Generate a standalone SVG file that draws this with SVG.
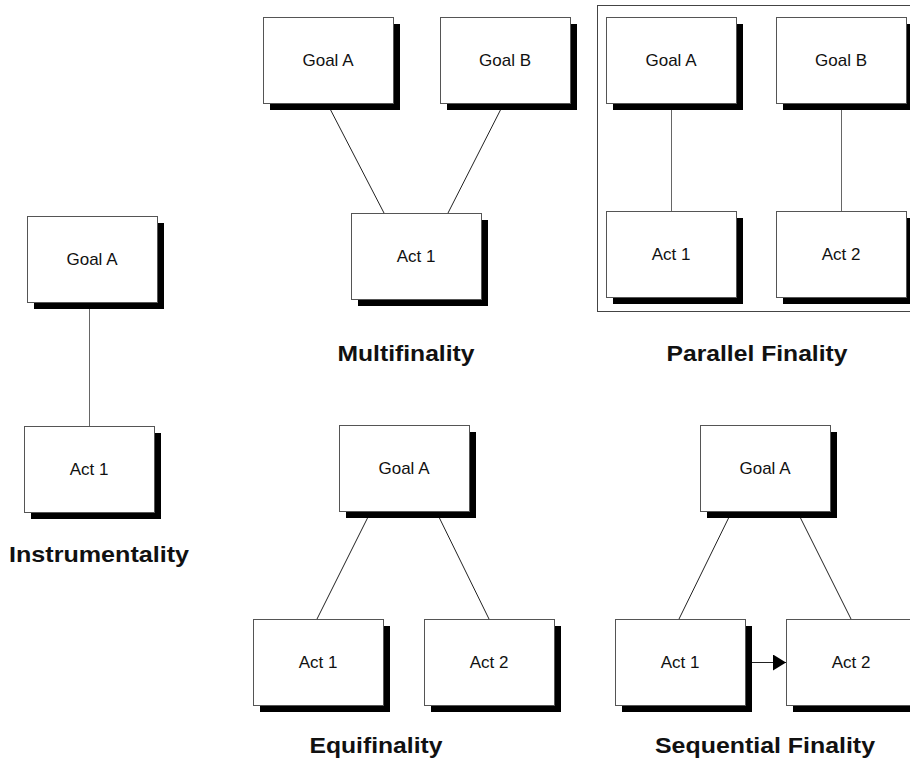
<svg xmlns="http://www.w3.org/2000/svg" width="910" height="764" viewBox="0 0 910 764">
  <style>
    .shadow { fill: #000; }
    .box { fill: #fff; stroke: #555; stroke-width: 1; }
    .label { font-family: "Liberation Sans", Arial, sans-serif; font-size: 17px; fill: #111; text-anchor: middle; }
    .title { font-family: "Liberation Sans", Arial, sans-serif; font-size: 22px; font-weight: bold; fill: #111; text-anchor: middle; }
    .link { stroke: #222; stroke-width: 1; fill: none; }
    .vlink { stroke: #666; stroke-width: 1; fill: none; }
    .frame { fill: none; stroke: #444; stroke-width: 1; }
  </style>
  <defs>
    <marker id="arrow" viewBox="0 0 13 16" refX="13" refY="8" markerWidth="13" markerHeight="16" markerUnits="userSpaceOnUse" orient="auto">
      <path d="M0,0 L13,8 L0,16 Z" fill="#000"/>
    </marker>
    <!-- node shape: black drop shadow behind a white framed box, 130x86 -->
    <g id="node">
      <rect class="shadow" x="7" y="7" width="130" height="86"/>
      <rect class="box" x="0.5" y="0.5" width="130" height="86"/>
    </g>
  </defs>
  <rect width="910" height="764" fill="#fff"/>

  <!-- frame around the parallel finality group -->
  <rect class="frame" x="597.5" y="5.5" width="330" height="306"/>

  <g id="connectors">
    <!-- instrumentality -->
    <line class="vlink" x1="89.5" y1="302" x2="89.5" y2="426"/>
    <!-- multifinality -->
    <line class="link" x1="327" y1="103" x2="384" y2="213"/>
    <line class="link" x1="504" y1="103" x2="448" y2="213"/>
    <!-- parallel finality -->
    <line class="vlink" x1="671.5" y1="103" x2="671.5" y2="211"/>
    <line class="vlink" x1="841.5" y1="103" x2="841.5" y2="211"/>
    <!-- equifinality -->
    <line class="link" x1="371" y1="511" x2="317" y2="619"/>
    <line class="link" x1="436" y1="511" x2="489" y2="619"/>
    <!-- sequential finality -->
    <line class="link" x1="732" y1="511" x2="679" y2="619"/>
    <line class="link" x1="797" y1="511" x2="851" y2="619"/>
    <line class="link" x1="751" y1="662.5" x2="786" y2="662.5" marker-end="url(#arrow)"/>
  </g>

  <!-- Instrumentality -->
  <g id="inst-goal-a"><use href="#node" x="27" y="216"/><text class="label" x="92" y="265">Goal A</text></g>
  <g id="inst-act-1"><use href="#node" x="24" y="426"/><text class="label" x="89" y="475">Act 1</text></g>

  <!-- Multifinality -->
  <g id="multi-goal-a"><use href="#node" x="263" y="17"/><text class="label" x="328" y="66">Goal A</text></g>
  <g id="multi-goal-b"><use href="#node" x="440" y="17"/><text class="label" x="505" y="66">Goal B</text></g>
  <g id="multi-act-1"><use href="#node" x="351" y="213"/><text class="label" x="416" y="262">Act 1</text></g>

  <!-- Parallel Finality -->
  <g id="par-goal-a"><use href="#node" x="606" y="17"/><text class="label" x="671" y="66">Goal A</text></g>
  <g id="par-goal-b"><use href="#node" x="776" y="17"/><text class="label" x="841" y="66">Goal B</text></g>
  <g id="par-act-1"><use href="#node" x="606" y="211"/><text class="label" x="671" y="260">Act 1</text></g>
  <g id="par-act-2"><use href="#node" x="776" y="211"/><text class="label" x="841" y="260">Act 2</text></g>

  <!-- Equifinality -->
  <g id="equi-goal-a"><use href="#node" x="339" y="425"/><text class="label" x="404" y="474">Goal A</text></g>
  <g id="equi-act-1"><use href="#node" x="253" y="619"/><text class="label" x="318" y="668">Act 1</text></g>
  <g id="equi-act-2"><use href="#node" x="424" y="619"/><text class="label" x="489" y="668">Act 2</text></g>

  <!-- Sequential Finality -->
  <g id="seq-goal-a"><use href="#node" x="700" y="425"/><text class="label" x="765" y="474">Goal A</text></g>
  <g id="seq-act-1"><use href="#node" x="615" y="619"/><text class="label" x="680" y="668">Act 1</text></g>
  <g id="seq-act-2"><use href="#node" x="786" y="619"/><text class="label" x="851" y="668">Act 2</text></g>

  <!-- captions -->
  <g id="captions">
    <text class="title" x="99" y="562" textLength="180" lengthAdjust="spacingAndGlyphs">Instrumentality</text>
    <text class="title" x="406" y="361" textLength="137" lengthAdjust="spacingAndGlyphs">Multifinality</text>
    <text class="title" x="757" y="361" textLength="181" lengthAdjust="spacingAndGlyphs">Parallel Finality</text>
    <text class="title" x="376" y="753" textLength="133" lengthAdjust="spacingAndGlyphs">Equifinality</text>
    <text class="title" x="765" y="753" textLength="220" lengthAdjust="spacingAndGlyphs">Sequential Finality</text>
  </g>
</svg>
